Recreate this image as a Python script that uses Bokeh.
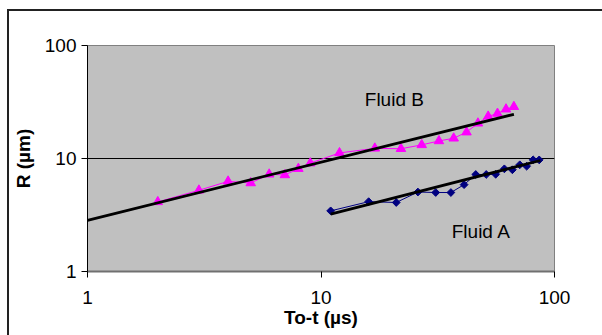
import numpy as np
from bokeh.plotting import figure
from bokeh.models import Range1d, FixedTicker, PrintfTickFormatter
from bokeh.core.properties import value
from bokeh.embed import file_html
from bokeh.resources import INLINE

# ---- data ----
fluid_b_t = [2, 3, 4, 5, 6, 7, 8, 9, 12, 17, 22, 27, 32, 37, 42, 47, 52, 57, 62, 67]
fluid_b_r = [4.13, 5.23, 6.28, 6.07, 7.25, 7.15, 8.13, 9.1, 11.2, 12.3, 12.2, 13.2,
             14.3, 15.1, 17.1, 20.5, 23.6, 25.0, 27.3, 28.7]
fluid_a_t = [11, 16, 21, 26, 31, 36, 41, 46, 51, 56, 61, 66, 71, 76, 81, 86]
fluid_a_r = [3.44, 4.15, 4.08, 5.05, 5.0, 5.0, 5.87, 7.22, 7.22, 7.25, 8.1, 7.95,
             8.8, 8.55, 9.73, 9.72]
fit_b_t = [1, 67]
fit_b_r = [2.84, 24.6]
fit_a_t = [11, 87]
fit_a_r = [3.22, 9.6]
tick_values = [1, 10, 100]
series_labels = ["Fluid B", "Fluid A"]
label_t = [15.4, 36.3]
label_r = [33.0, 2.25]

FONT = "Liberation Sans"

frame_css = ("linear-gradient(#222222,#222222) 7px 9px / 2px 400px no-repeat, "
             "linear-gradient(#222222,#222222) 7px 9px / 700px 2px no-repeat, #ffffff")

p = figure(width=602, height=335, x_axis_type="log", y_axis_type="log",
           x_range=Range1d(1, 100), y_range=Range1d(1, 100),
           output_backend="svg", toolbar_location=None,
           min_border_left=87, min_border_right=48, min_border_top=45, min_border_bottom=64,
           frame_width=467, frame_height=226,
           styles={"background": frame_css})

p.background_fill_color = "#C0C0C0"
p.border_fill_color = None
p.outline_line_color = "#808080"
p.outline_line_width = 1

p.xgrid.visible = False
p.ygrid.ticker = FixedTicker(ticks=[10])
p.ygrid.grid_line_color = "black"
p.ygrid.grid_line_width = 1

for ax in (p.xaxis[0], p.yaxis[0]):
    ax.ticker = FixedTicker(ticks=tick_values, minor_ticks=[])
    ax.formatter = PrintfTickFormatter(format="%d")
    ax.major_label_text_font = FONT
    ax.major_label_text_font_size = "19px"
    ax.major_label_text_color = "black"
    ax.axis_label_text_font = FONT
    ax.axis_label_text_font_size = "19px"
    ax.axis_label_text_font_style = "bold"
    ax.axis_label_text_color = "black"
    ax.major_tick_line_color = "black"
    ax.major_tick_out = 6
    ax.major_tick_in = 0
    ax.minor_tick_line_color = None

p.xaxis.axis_label = "To-t (µs)"
p.yaxis.axis_label = "R (µm)"
p.xaxis.axis_line_color = "#707070"
p.xaxis.axis_line_width = 2
p.yaxis.axis_line_color = "black"
p.yaxis.axis_line_width = 1
p.xaxis.major_label_standoff = 13
p.xaxis.axis_label_standoff = 0
p.yaxis.major_label_standoff = 5
p.yaxis.axis_label_standoff = 8

# series
p.line(fluid_b_t, fluid_b_r, line_color="#FF00FF", line_width=1)
p.scatter(fluid_b_t, fluid_b_r, marker="triangle", size=9.5, color="#FF00FF")
p.line(fluid_a_t, fluid_a_r, line_color="#000080", line_width=1)
p.scatter(fluid_a_t, fluid_a_r, marker="square", angle=np.pi / 4, size=5.5, color="#000080")

# trend lines
p.line(fit_b_t, fit_b_r, line_color="black", line_width=2.8)
p.line(fit_a_t, fit_a_r, line_color="black", line_width=2.8)

p.text(label_t, label_r, text=series_labels, text_font=value(FONT),
       text_font_size="19px", text_color="black", text_baseline="middle",
       text_align="left")

open("out.html", "w").write(file_html(p, INLINE))
